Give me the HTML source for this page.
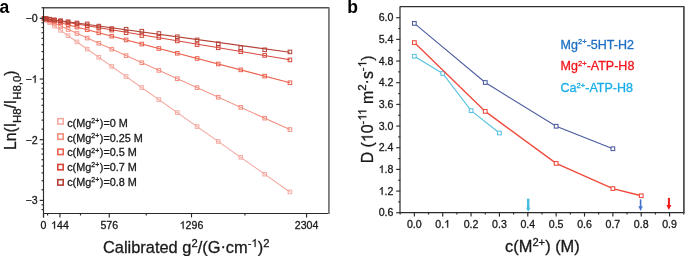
<!DOCTYPE html>
<html><head><meta charset="utf-8"><style>
html,body{margin:0;padding:0;background:#fff;}
body{width:685px;height:256px;overflow:hidden;font-family:"Liberation Sans",sans-serif;}
svg{display:block;will-change:transform;}
.h1{fill-opacity:0;stroke-opacity:0;}
text{stroke-width:0.3px;stroke-linejoin:round;}
</style></head><body>
<svg width="685" height="256" viewBox="0 0 685 256">
<rect width="685" height="256" fill="#fff"/>
<line x1="44.10" y1="18.77" x2="289.93" y2="191.96" stroke="#f5aba3" stroke-width="1.1"/>
<rect x="42.38" y="17.03" width="3.6" height="3.6" fill="none" stroke="#f5aba3" stroke-width="1"/>
<rect x="44.43" y="18.47" width="3.6" height="3.6" fill="none" stroke="#f5aba3" stroke-width="1"/>
<rect x="47.84" y="20.88" width="3.6" height="3.6" fill="none" stroke="#f5aba3" stroke-width="1"/>
<rect x="52.62" y="24.24" width="3.6" height="3.6" fill="none" stroke="#f5aba3" stroke-width="1"/>
<rect x="58.77" y="28.57" width="3.6" height="3.6" fill="none" stroke="#f5aba3" stroke-width="1"/>
<rect x="66.27" y="33.86" width="3.6" height="3.6" fill="none" stroke="#f5aba3" stroke-width="1"/>
<rect x="75.15" y="40.11" width="3.6" height="3.6" fill="none" stroke="#f5aba3" stroke-width="1"/>
<rect x="85.39" y="47.33" width="3.6" height="3.6" fill="none" stroke="#f5aba3" stroke-width="1"/>
<rect x="96.99" y="55.50" width="3.6" height="3.6" fill="none" stroke="#f5aba3" stroke-width="1"/>
<rect x="109.96" y="64.64" width="3.6" height="3.6" fill="none" stroke="#f5aba3" stroke-width="1"/>
<rect x="124.30" y="74.74" width="3.6" height="3.6" fill="none" stroke="#f5aba3" stroke-width="1"/>
<rect x="140.00" y="85.80" width="3.6" height="3.6" fill="none" stroke="#f5aba3" stroke-width="1"/>
<rect x="157.06" y="97.82" width="3.6" height="3.6" fill="none" stroke="#f5aba3" stroke-width="1"/>
<rect x="175.50" y="110.81" width="3.6" height="3.6" fill="none" stroke="#f5aba3" stroke-width="1"/>
<rect x="195.29" y="124.76" width="3.6" height="3.6" fill="none" stroke="#f5aba3" stroke-width="1"/>
<rect x="216.45" y="139.66" width="3.6" height="3.6" fill="none" stroke="#f5aba3" stroke-width="1"/>
<rect x="238.98" y="155.53" width="3.6" height="3.6" fill="none" stroke="#f5aba3" stroke-width="1"/>
<rect x="262.87" y="172.37" width="3.6" height="3.6" fill="none" stroke="#f5aba3" stroke-width="1"/>
<rect x="288.13" y="190.16" width="3.6" height="3.6" fill="none" stroke="#f5aba3" stroke-width="1"/>
<line x1="44.10" y1="18.62" x2="289.93" y2="129.56" stroke="#f38e7f" stroke-width="1.1"/>
<rect x="42.38" y="16.86" width="3.6" height="3.6" fill="none" stroke="#f38e7f" stroke-width="1"/>
<rect x="44.43" y="17.78" width="3.6" height="3.6" fill="none" stroke="#f38e7f" stroke-width="1"/>
<rect x="47.84" y="19.32" width="3.6" height="3.6" fill="none" stroke="#f38e7f" stroke-width="1"/>
<rect x="52.62" y="21.48" width="3.6" height="3.6" fill="none" stroke="#f38e7f" stroke-width="1"/>
<rect x="58.77" y="24.25" width="3.6" height="3.6" fill="none" stroke="#f38e7f" stroke-width="1"/>
<rect x="66.27" y="27.64" width="3.6" height="3.6" fill="none" stroke="#f38e7f" stroke-width="1"/>
<rect x="75.15" y="31.65" width="3.6" height="3.6" fill="none" stroke="#f38e7f" stroke-width="1"/>
<rect x="85.39" y="36.27" width="3.6" height="3.6" fill="none" stroke="#f38e7f" stroke-width="1"/>
<rect x="96.99" y="41.50" width="3.6" height="3.6" fill="none" stroke="#f38e7f" stroke-width="1"/>
<rect x="109.96" y="47.36" width="3.6" height="3.6" fill="none" stroke="#f38e7f" stroke-width="1"/>
<rect x="124.30" y="53.83" width="3.6" height="3.6" fill="none" stroke="#f38e7f" stroke-width="1"/>
<rect x="140.00" y="60.91" width="3.6" height="3.6" fill="none" stroke="#f38e7f" stroke-width="1"/>
<rect x="157.06" y="68.61" width="3.6" height="3.6" fill="none" stroke="#f38e7f" stroke-width="1"/>
<rect x="175.50" y="76.93" width="3.6" height="3.6" fill="none" stroke="#f38e7f" stroke-width="1"/>
<rect x="195.29" y="85.87" width="3.6" height="3.6" fill="none" stroke="#f38e7f" stroke-width="1"/>
<rect x="216.45" y="95.42" width="3.6" height="3.6" fill="none" stroke="#f38e7f" stroke-width="1"/>
<rect x="238.98" y="105.58" width="3.6" height="3.6" fill="none" stroke="#f38e7f" stroke-width="1"/>
<rect x="262.87" y="116.37" width="3.6" height="3.6" fill="none" stroke="#f38e7f" stroke-width="1"/>
<rect x="288.13" y="127.76" width="3.6" height="3.6" fill="none" stroke="#f38e7f" stroke-width="1"/>
<line x1="44.10" y1="18.51" x2="289.93" y2="82.72" stroke="#eb6350" stroke-width="1.1"/>
<rect x="42.38" y="16.73" width="3.6" height="3.6" fill="none" stroke="#eb6350" stroke-width="1"/>
<rect x="44.43" y="17.26" width="3.6" height="3.6" fill="none" stroke="#eb6350" stroke-width="1"/>
<rect x="47.84" y="18.15" width="3.6" height="3.6" fill="none" stroke="#eb6350" stroke-width="1"/>
<rect x="52.62" y="19.40" width="3.6" height="3.6" fill="none" stroke="#eb6350" stroke-width="1"/>
<rect x="58.77" y="21.01" width="3.6" height="3.6" fill="none" stroke="#eb6350" stroke-width="1"/>
<rect x="66.27" y="22.97" width="3.6" height="3.6" fill="none" stroke="#eb6350" stroke-width="1"/>
<rect x="75.15" y="25.29" width="3.6" height="3.6" fill="none" stroke="#eb6350" stroke-width="1"/>
<rect x="85.39" y="27.96" width="3.6" height="3.6" fill="none" stroke="#eb6350" stroke-width="1"/>
<rect x="96.99" y="30.99" width="3.6" height="3.6" fill="none" stroke="#eb6350" stroke-width="1"/>
<rect x="109.96" y="34.38" width="3.6" height="3.6" fill="none" stroke="#eb6350" stroke-width="1"/>
<rect x="124.30" y="38.12" width="3.6" height="3.6" fill="none" stroke="#eb6350" stroke-width="1"/>
<rect x="140.00" y="42.23" width="3.6" height="3.6" fill="none" stroke="#eb6350" stroke-width="1"/>
<rect x="157.06" y="46.68" width="3.6" height="3.6" fill="none" stroke="#eb6350" stroke-width="1"/>
<rect x="175.50" y="51.50" width="3.6" height="3.6" fill="none" stroke="#eb6350" stroke-width="1"/>
<rect x="195.29" y="56.67" width="3.6" height="3.6" fill="none" stroke="#eb6350" stroke-width="1"/>
<rect x="216.45" y="62.20" width="3.6" height="3.6" fill="none" stroke="#eb6350" stroke-width="1"/>
<rect x="238.98" y="68.08" width="3.6" height="3.6" fill="none" stroke="#eb6350" stroke-width="1"/>
<rect x="262.87" y="74.32" width="3.6" height="3.6" fill="none" stroke="#eb6350" stroke-width="1"/>
<rect x="288.13" y="80.92" width="3.6" height="3.6" fill="none" stroke="#eb6350" stroke-width="1"/>
<line x1="44.10" y1="18.45" x2="289.93" y2="59.75" stroke="#d6463a" stroke-width="1.1"/>
<rect x="42.38" y="16.66" width="3.6" height="3.6" fill="none" stroke="#d6463a" stroke-width="1"/>
<rect x="44.43" y="17.01" width="3.6" height="3.6" fill="none" stroke="#d6463a" stroke-width="1"/>
<rect x="47.84" y="17.58" width="3.6" height="3.6" fill="none" stroke="#d6463a" stroke-width="1"/>
<rect x="52.62" y="18.38" width="3.6" height="3.6" fill="none" stroke="#d6463a" stroke-width="1"/>
<rect x="58.77" y="19.42" width="3.6" height="3.6" fill="none" stroke="#d6463a" stroke-width="1"/>
<rect x="66.27" y="20.68" width="3.6" height="3.6" fill="none" stroke="#d6463a" stroke-width="1"/>
<rect x="75.15" y="22.17" width="3.6" height="3.6" fill="none" stroke="#d6463a" stroke-width="1"/>
<rect x="85.39" y="23.89" width="3.6" height="3.6" fill="none" stroke="#d6463a" stroke-width="1"/>
<rect x="96.99" y="25.84" width="3.6" height="3.6" fill="none" stroke="#d6463a" stroke-width="1"/>
<rect x="109.96" y="28.30" width="3.6" height="3.6" fill="none" stroke="#d6463a" stroke-width="1"/>
<rect x="124.30" y="30.95" width="3.6" height="3.6" fill="none" stroke="#d6463a" stroke-width="1"/>
<rect x="140.00" y="33.70" width="3.6" height="3.6" fill="none" stroke="#d6463a" stroke-width="1"/>
<rect x="157.06" y="35.70" width="3.6" height="3.6" fill="none" stroke="#d6463a" stroke-width="1"/>
<rect x="175.50" y="39.10" width="3.6" height="3.6" fill="none" stroke="#d6463a" stroke-width="1"/>
<rect x="195.29" y="42.80" width="3.6" height="3.6" fill="none" stroke="#d6463a" stroke-width="1"/>
<rect x="216.45" y="46.00" width="3.6" height="3.6" fill="none" stroke="#d6463a" stroke-width="1"/>
<rect x="238.98" y="49.85" width="3.6" height="3.6" fill="none" stroke="#d6463a" stroke-width="1"/>
<rect x="262.87" y="53.60" width="3.6" height="3.6" fill="none" stroke="#d6463a" stroke-width="1"/>
<rect x="288.13" y="58.10" width="3.6" height="3.6" fill="none" stroke="#d6463a" stroke-width="1"/>
<line x1="44.10" y1="18.43" x2="289.93" y2="52.31" stroke="#b54237" stroke-width="1.1"/>
<rect x="42.38" y="16.64" width="3.6" height="3.6" fill="none" stroke="#b54237" stroke-width="1"/>
<rect x="44.43" y="16.93" width="3.6" height="3.6" fill="none" stroke="#b54237" stroke-width="1"/>
<rect x="47.84" y="17.40" width="3.6" height="3.6" fill="none" stroke="#b54237" stroke-width="1"/>
<rect x="52.62" y="18.06" width="3.6" height="3.6" fill="none" stroke="#b54237" stroke-width="1"/>
<rect x="58.77" y="18.90" width="3.6" height="3.6" fill="none" stroke="#b54237" stroke-width="1"/>
<rect x="66.27" y="19.94" width="3.6" height="3.6" fill="none" stroke="#b54237" stroke-width="1"/>
<rect x="75.15" y="21.16" width="3.6" height="3.6" fill="none" stroke="#b54237" stroke-width="1"/>
<rect x="85.39" y="22.10" width="3.6" height="3.6" fill="none" stroke="#b54237" stroke-width="1"/>
<rect x="96.99" y="24.30" width="3.6" height="3.6" fill="none" stroke="#b54237" stroke-width="1"/>
<rect x="109.96" y="26.80" width="3.6" height="3.6" fill="none" stroke="#b54237" stroke-width="1"/>
<rect x="124.30" y="27.40" width="3.6" height="3.6" fill="none" stroke="#b54237" stroke-width="1"/>
<rect x="140.00" y="29.40" width="3.6" height="3.6" fill="none" stroke="#b54237" stroke-width="1"/>
<rect x="157.06" y="31.70" width="3.6" height="3.6" fill="none" stroke="#b54237" stroke-width="1"/>
<rect x="175.50" y="35.00" width="3.6" height="3.6" fill="none" stroke="#b54237" stroke-width="1"/>
<rect x="195.29" y="38.10" width="3.6" height="3.6" fill="none" stroke="#b54237" stroke-width="1"/>
<rect x="216.45" y="41.90" width="3.6" height="3.6" fill="none" stroke="#b54237" stroke-width="1"/>
<rect x="238.98" y="45.95" width="3.6" height="3.6" fill="none" stroke="#b54237" stroke-width="1"/>
<rect x="262.87" y="48.00" width="3.6" height="3.6" fill="none" stroke="#b54237" stroke-width="1"/>
<rect x="288.13" y="50.10" width="3.6" height="3.6" fill="none" stroke="#b54237" stroke-width="1"/>
<g stroke="#2a2a2a" stroke-width="1.15" fill="none">
<line x1="43.50" y1="7.00" x2="43.50" y2="217.50"/>
<line x1="43.00" y1="213.50" x2="329.30" y2="213.50"/>
<line x1="43.50" y1="7.65" x2="329.40" y2="7.65" stroke="#505050" stroke-width="1.45"/>
<line x1="328.90" y1="7.65" x2="328.90" y2="214.00" stroke="#7a7a7a" stroke-width="1.8"/>
<line x1="39.70" y1="18.35" x2="43.50" y2="18.35"/>
<line x1="39.70" y1="79.03" x2="43.50" y2="79.03"/>
<line x1="39.70" y1="139.71" x2="43.50" y2="139.71"/>
<line x1="39.70" y1="200.39" x2="43.50" y2="200.39"/>
<line x1="41.50" y1="209.58" x2="43.50" y2="209.58"/>
<line x1="41.50" y1="204.81" x2="43.50" y2="204.81"/>
<line x1="41.50" y1="189.79" x2="43.50" y2="189.79"/>
<line x1="41.50" y1="180.77" x2="43.50" y2="180.77"/>
<line x1="41.50" y1="172.91" x2="43.50" y2="172.91"/>
<line x1="41.50" y1="165.96" x2="43.50" y2="165.96"/>
<line x1="41.50" y1="159.72" x2="43.50" y2="159.72"/>
<line x1="41.50" y1="154.07" x2="43.50" y2="154.07"/>
<line x1="41.50" y1="148.90" x2="43.50" y2="148.90"/>
<line x1="41.50" y1="144.13" x2="43.50" y2="144.13"/>
<line x1="41.50" y1="129.11" x2="43.50" y2="129.11"/>
<line x1="41.50" y1="120.09" x2="43.50" y2="120.09"/>
<line x1="41.50" y1="112.23" x2="43.50" y2="112.23"/>
<line x1="41.50" y1="105.28" x2="43.50" y2="105.28"/>
<line x1="41.50" y1="99.04" x2="43.50" y2="99.04"/>
<line x1="41.50" y1="93.39" x2="43.50" y2="93.39"/>
<line x1="41.50" y1="88.22" x2="43.50" y2="88.22"/>
<line x1="41.50" y1="83.45" x2="43.50" y2="83.45"/>
<line x1="41.50" y1="68.43" x2="43.50" y2="68.43"/>
<line x1="41.50" y1="59.41" x2="43.50" y2="59.41"/>
<line x1="41.50" y1="51.55" x2="43.50" y2="51.55"/>
<line x1="41.50" y1="44.60" x2="43.50" y2="44.60"/>
<line x1="41.50" y1="38.36" x2="43.50" y2="38.36"/>
<line x1="41.50" y1="32.71" x2="43.50" y2="32.71"/>
<line x1="41.50" y1="27.54" x2="43.50" y2="27.54"/>
<line x1="41.50" y1="22.77" x2="43.50" y2="22.77"/>
<line x1="41.50" y1="7.75" x2="43.50" y2="7.75"/>
<line x1="43.50" y1="213.50" x2="43.50" y2="217.50"/>
<line x1="59.94" y1="213.50" x2="59.94" y2="217.50"/>
<line x1="109.27" y1="213.50" x2="109.27" y2="217.50"/>
<line x1="191.49" y1="213.50" x2="191.49" y2="217.50"/>
<line x1="306.59" y1="213.50" x2="306.59" y2="217.50"/>
<line x1="47.61" y1="213.50" x2="47.61" y2="215.50"/>
<line x1="80.50" y1="213.50" x2="80.50" y2="215.50"/>
<line x1="146.27" y1="213.50" x2="146.27" y2="215.50"/>
<line x1="244.93" y1="213.50" x2="244.93" y2="215.50"/>
</g>
<g font-family="Liberation Sans, sans-serif" font-size="10.60" fill="#1a1a1a" stroke="#1a1a1a">
<text x="37.6" y="22.15" text-anchor="end">−0</text>
<text x="37.6" y="82.83" text-anchor="end">−<tspan class="h1">1</tspan></text>
<text x="37.6" y="143.51" text-anchor="end">−2</text>
<text x="37.6" y="204.19" text-anchor="end">−3</text>
<text x="43.50" y="228.8" text-anchor="middle">0</text>
<text x="59.94" y="228.8" text-anchor="middle"><tspan class="h1">1</tspan>44</text>
<text x="109.27" y="228.8" text-anchor="middle">576</text>
<text x="191.49" y="228.8" text-anchor="middle"><tspan class="h1">1</tspan>296</text>
<text x="306.59" y="228.8" text-anchor="middle">2304</text>
</g>
<rect x="57.80" y="118.65" width="5.4" height="5.4" fill="none" stroke="#f5aba3" stroke-width="1.6"/>
<text x="67.2" y="126.80" font-family="Liberation Sans, sans-serif" font-size="10.85" fill="#1a1a1a" stroke="#1a1a1a">c(Mg<tspan font-size="6.9" dy="-3.8">2+</tspan><tspan dy="3.8" dx="0.6">)=0 M</tspan></text>
<rect x="57.80" y="133.91" width="5.4" height="5.4" fill="none" stroke="#f38e7f" stroke-width="1.6"/>
<text x="67.2" y="141.62" font-family="Liberation Sans, sans-serif" font-size="10.85" fill="#1a1a1a" stroke="#1a1a1a">c(Mg<tspan font-size="6.9" dy="-3.8">2+</tspan><tspan dy="3.8" dx="0.6">)=0.25 M</tspan></text>
<rect x="57.80" y="149.17" width="5.4" height="5.4" fill="none" stroke="#eb6350" stroke-width="1.6"/>
<text x="67.2" y="156.44" font-family="Liberation Sans, sans-serif" font-size="10.85" fill="#1a1a1a" stroke="#1a1a1a">c(Mg<tspan font-size="6.9" dy="-3.8">2+</tspan><tspan dy="3.8" dx="0.6">)=0.5 M</tspan></text>
<rect x="57.80" y="164.43" width="5.4" height="5.4" fill="none" stroke="#d6463a" stroke-width="1.6"/>
<text x="67.2" y="171.26" font-family="Liberation Sans, sans-serif" font-size="10.85" fill="#1a1a1a" stroke="#1a1a1a">c(Mg<tspan font-size="6.9" dy="-3.8">2+</tspan><tspan dy="3.8" dx="0.6">)=0.7 M</tspan></text>
<rect x="57.80" y="179.69" width="5.4" height="5.4" fill="none" stroke="#b54237" stroke-width="1.6"/>
<text x="67.2" y="186.08" font-family="Liberation Sans, sans-serif" font-size="10.85" fill="#1a1a1a" stroke="#1a1a1a">c(Mg<tspan font-size="6.9" dy="-3.8">2+</tspan><tspan dy="3.8" dx="0.6">)=0.8 M</tspan></text>
<text x="186.2" y="252.9" text-anchor="middle" font-family="Liberation Sans, sans-serif" font-size="16.40" fill="#1a1a1a" stroke="#1a1a1a">Calibrated g<tspan font-size="11.2" dy="-6">2</tspan><tspan dy="6">/(G</tspan><tspan dy="-1.1">·</tspan><tspan dy="1.1">cm</tspan><tspan font-size="11.2" dy="-6">-<tspan class="h1">1</tspan></tspan><tspan dy="6">)</tspan><tspan font-size="11.2" dy="-6">2</tspan></text>
<text transform="translate(15.8,149.9) rotate(-90)" font-family="Liberation Sans, sans-serif" font-size="15.6" fill="#1a1a1a" stroke="#1a1a1a">Ln(I<tspan font-size="11.4" dy="5.1">H8</tspan><tspan dy="-5.1">/I</tspan><tspan font-size="11.4" dy="5.1">H8,0</tspan><tspan dy="-5.1">)</tspan></text>
<text x="-0.5" y="13.2" font-family="Liberation Sans, sans-serif" font-weight="bold" font-size="17.5" fill="#000">a</text>
<polyline points="414.35,56.25 442.71,73.50 471.07,110.60 499.43,133.00" fill="none" stroke="#58c3e2" stroke-width="1.10"/>
<rect x="412.50" y="54.40" width="3.7" height="3.7" fill="#fff" stroke="#58c3e2" stroke-width="1.05"/>
<rect x="440.86" y="71.65" width="3.7" height="3.7" fill="#fff" stroke="#58c3e2" stroke-width="1.05"/>
<rect x="469.22" y="108.75" width="3.7" height="3.7" fill="#fff" stroke="#58c3e2" stroke-width="1.05"/>
<rect x="497.58" y="131.15" width="3.7" height="3.7" fill="#fff" stroke="#58c3e2" stroke-width="1.05"/>
<polyline points="414.35,23.40 485.25,82.50 556.15,126.25 612.87,148.75" fill="none" stroke="#4a5a9c" stroke-width="1.05"/>
<rect x="412.50" y="21.55" width="3.7" height="3.7" fill="#fff" stroke="#4a5a9c" stroke-width="1.05"/>
<rect x="483.40" y="80.65" width="3.7" height="3.7" fill="#fff" stroke="#4a5a9c" stroke-width="1.05"/>
<rect x="554.30" y="124.40" width="3.7" height="3.7" fill="#fff" stroke="#4a5a9c" stroke-width="1.05"/>
<rect x="611.02" y="146.90" width="3.7" height="3.7" fill="#fff" stroke="#4a5a9c" stroke-width="1.05"/>
<polyline points="414.35,42.60 485.25,111.40 556.15,163.40 612.87,188.60 641.23,195.75" fill="none" stroke="#ef4a3c" stroke-width="1.35"/>
<rect x="412.50" y="40.75" width="3.7" height="3.7" fill="#fff" stroke="#ef4a3c" stroke-width="1.05"/>
<rect x="483.40" y="109.55" width="3.7" height="3.7" fill="#fff" stroke="#ef4a3c" stroke-width="1.05"/>
<rect x="554.30" y="161.55" width="3.7" height="3.7" fill="#fff" stroke="#ef4a3c" stroke-width="1.05"/>
<rect x="611.02" y="186.75" width="3.7" height="3.7" fill="#fff" stroke="#ef4a3c" stroke-width="1.05"/>
<rect x="639.38" y="193.90" width="3.7" height="3.7" fill="#fff" stroke="#ef4a3c" stroke-width="1.05"/>
<line x1="528.20" y1="198.70" x2="528.20" y2="208.30" stroke="#47bde0" stroke-width="2.50"/>
<polygon points="526.00,207.80 530.40,207.80 528.20,211.80" fill="#47bde0"/>
<line x1="640.60" y1="199.40" x2="640.60" y2="206.70" stroke="#4272cc" stroke-width="1.60"/>
<polygon points="638.40,206.20 642.80,206.20 640.60,211.00" fill="#4272cc"/>
<line x1="668.90" y1="197.90" x2="668.90" y2="205.50" stroke="#f01818" stroke-width="2.00"/>
<polygon points="666.40,205.00 671.40,205.00 668.90,210.00" fill="#f01818"/>
<g stroke="#2a2a2a" stroke-width="1.15" fill="none">
<line x1="400.00" y1="6.85" x2="400.00" y2="213.05" stroke="#6a6a6a" stroke-width="1.7"/>
<line x1="399.70" y1="212.55" x2="684.30" y2="212.55"/>
<line x1="399.70" y1="6.60" x2="684.30" y2="6.60" stroke="#303030" stroke-width="1.2"/>
<line x1="683.90" y1="6.60" x2="683.90" y2="213.05" stroke="#4a4a4a" stroke-width="1.7"/>
<line x1="396.20" y1="212.75" x2="400.20" y2="212.75"/>
<line x1="398.20" y1="201.91" x2="400.20" y2="201.91"/>
<line x1="396.20" y1="191.08" x2="400.20" y2="191.08"/>
<line x1="398.20" y1="180.24" x2="400.20" y2="180.24"/>
<line x1="396.20" y1="169.40" x2="400.20" y2="169.40"/>
<line x1="398.20" y1="158.57" x2="400.20" y2="158.57"/>
<line x1="396.20" y1="147.73" x2="400.20" y2="147.73"/>
<line x1="398.20" y1="136.90" x2="400.20" y2="136.90"/>
<line x1="396.20" y1="126.06" x2="400.20" y2="126.06"/>
<line x1="398.20" y1="115.22" x2="400.20" y2="115.22"/>
<line x1="396.20" y1="104.39" x2="400.20" y2="104.39"/>
<line x1="398.20" y1="93.55" x2="400.20" y2="93.55"/>
<line x1="396.20" y1="82.72" x2="400.20" y2="82.72"/>
<line x1="398.20" y1="71.88" x2="400.20" y2="71.88"/>
<line x1="396.20" y1="61.04" x2="400.20" y2="61.04"/>
<line x1="398.20" y1="50.21" x2="400.20" y2="50.21"/>
<line x1="396.20" y1="39.37" x2="400.20" y2="39.37"/>
<line x1="398.20" y1="28.54" x2="400.20" y2="28.54"/>
<line x1="396.20" y1="17.70" x2="400.20" y2="17.70"/>
<line x1="400.17" y1="212.55" x2="400.17" y2="214.55"/>
<line x1="414.35" y1="212.55" x2="414.35" y2="216.55"/>
<line x1="428.53" y1="212.55" x2="428.53" y2="214.55"/>
<line x1="442.71" y1="212.55" x2="442.71" y2="216.55"/>
<line x1="456.89" y1="212.55" x2="456.89" y2="214.55"/>
<line x1="471.07" y1="212.55" x2="471.07" y2="216.55"/>
<line x1="485.25" y1="212.55" x2="485.25" y2="214.55"/>
<line x1="499.43" y1="212.55" x2="499.43" y2="216.55"/>
<line x1="513.61" y1="212.55" x2="513.61" y2="214.55"/>
<line x1="527.79" y1="212.55" x2="527.79" y2="216.55"/>
<line x1="541.97" y1="212.55" x2="541.97" y2="214.55"/>
<line x1="556.15" y1="212.55" x2="556.15" y2="216.55"/>
<line x1="570.33" y1="212.55" x2="570.33" y2="214.55"/>
<line x1="584.51" y1="212.55" x2="584.51" y2="216.55"/>
<line x1="598.69" y1="212.55" x2="598.69" y2="214.55"/>
<line x1="612.87" y1="212.55" x2="612.87" y2="216.55"/>
<line x1="627.05" y1="212.55" x2="627.05" y2="214.55"/>
<line x1="641.23" y1="212.55" x2="641.23" y2="216.55"/>
<line x1="655.41" y1="212.55" x2="655.41" y2="214.55"/>
<line x1="669.59" y1="212.55" x2="669.59" y2="216.55"/>
<line x1="683.77" y1="212.55" x2="683.77" y2="214.55"/>
</g>
<g font-family="Liberation Sans, sans-serif" font-size="10.60" fill="#1a1a1a" stroke="#1a1a1a">
<text x="393.4" y="216.30" text-anchor="end">0.6</text>
<text x="393.4" y="194.63" text-anchor="end"><tspan class="h1">1</tspan>.2</text>
<text x="393.4" y="172.95" text-anchor="end"><tspan class="h1">1</tspan>.8</text>
<text x="393.4" y="151.28" text-anchor="end">2.4</text>
<text x="393.4" y="129.61" text-anchor="end">3.0</text>
<text x="393.4" y="107.94" text-anchor="end">3.6</text>
<text x="393.4" y="86.27" text-anchor="end">4.2</text>
<text x="393.4" y="64.59" text-anchor="end">4.8</text>
<text x="393.4" y="42.92" text-anchor="end">5.4</text>
<text x="393.4" y="21.25" text-anchor="end">6.0</text>
<text x="414.35" y="227.6" text-anchor="middle">0.0</text>
<text x="442.71" y="227.6" text-anchor="middle">0.<tspan class="h1">1</tspan></text>
<text x="471.07" y="227.6" text-anchor="middle">0.2</text>
<text x="499.43" y="227.6" text-anchor="middle">0.3</text>
<text x="527.79" y="227.6" text-anchor="middle">0.4</text>
<text x="556.15" y="227.6" text-anchor="middle">0.5</text>
<text x="584.51" y="227.6" text-anchor="middle">0.6</text>
<text x="612.87" y="227.6" text-anchor="middle">0.7</text>
<text x="641.23" y="227.6" text-anchor="middle">0.8</text>
<text x="669.59" y="227.6" text-anchor="middle">0.9</text>
</g>
<text x="560.60" y="48.60" font-family="Liberation Sans, sans-serif" font-size="12.50" fill="#1f6fc2" stroke="#1f6fc2">Mg<tspan font-size="7.60" dy="-4.30">2+</tspan><tspan dy="4.30">-5HT-H2</tspan></text>
<text x="560.60" y="69.80" font-family="Liberation Sans, sans-serif" font-size="12.50" fill="#f2141c" stroke="#f2141c">Mg<tspan font-size="7.60" dy="-4.30">2+</tspan><tspan dy="4.30">-ATP-H8</tspan></text>
<text x="560.60" y="91.90" font-family="Liberation Sans, sans-serif" font-size="12.50" fill="#1aaee8" stroke="#1aaee8">Ca<tspan font-size="7.60" dy="-4.30">2+</tspan><tspan dy="4.30">-ATP-H8</tspan></text>
<text x="542.4" y="252.2" text-anchor="middle" font-family="Liberation Sans, sans-serif" font-size="16.40" fill="#1a1a1a" stroke="#1a1a1a">c(M<tspan font-size="11.2" dy="-6">2+</tspan><tspan dy="6">) (M)</tspan></text>
<text transform="translate(372.8,163.3) rotate(-90)" font-family="Liberation Sans, sans-serif" font-size="15.9" fill="#1a1a1a" stroke="#1a1a1a">D (<tspan class="h1">1</tspan>0<tspan font-size="11.6" dy="-6.5">-<tspan class="h1">1</tspan><tspan class="h1">1</tspan></tspan><tspan dy="6.5"> m</tspan><tspan font-size="11.6" dy="-6.5">2</tspan><tspan dy="5.8">·</tspan><tspan dy="0.7">s</tspan><tspan font-size="11.6" dy="-6.5">-<tspan class="h1">1</tspan></tspan><tspan dy="6.5">)</tspan></text>
<text x="347.2" y="13.2" font-family="Liberation Sans, sans-serif" font-weight="bold" font-size="17.5" fill="#000">b</text>
<path transform="matrix(1.00000,0.00000,0.00000,1.00000,0.000,0.000)" d="M34.71,82.83L35.64,82.83L35.64,75.24L35.04,75.24C34.85,75.64 34.49,76.05 34.13,76.36C33.76,76.67 33.25,76.96 32.84,77.14L32.84,78.03C33.09,77.93 33.40,77.78 33.76,77.58C34.13,77.37 34.46,77.14 34.71,76.89Z" fill="rgb(26, 26, 26)" stroke="rgb(26, 26, 26)" stroke-width="0.3" stroke-linejoin="round"/>
<path transform="matrix(1.00000,0.00000,0.00000,1.00000,0.000,0.000)" d="M54.11,228.80L55.04,228.80L55.04,221.21L54.43,221.21C54.25,221.61 53.88,222.02 53.52,222.33C53.16,222.64 52.64,222.93 52.24,223.11L52.24,224.00C52.49,223.90 52.80,223.75 53.16,223.55C53.52,223.34 53.86,223.11 54.11,222.86Z" fill="rgb(26, 26, 26)" stroke="rgb(26, 26, 26)" stroke-width="0.3" stroke-linejoin="round"/>
<path transform="matrix(1.00000,0.00000,0.00000,1.00000,0.000,0.000)" d="M182.71,228.80L183.64,228.80L183.64,221.21L183.04,221.21C182.85,221.61 182.49,222.02 182.13,222.33C181.76,222.64 181.25,222.93 180.84,223.11L180.84,224.00C181.09,223.90 181.40,223.75 181.76,223.55C182.13,223.34 182.46,223.11 182.71,222.86Z" fill="rgb(26, 26, 26)" stroke="rgb(26, 26, 26)" stroke-width="0.3" stroke-linejoin="round"/>
<path transform="matrix(1.00000,0.00000,0.00000,1.00000,0.000,0.000)" d="M254.65,246.90L255.63,246.90L255.63,238.88L254.99,238.88C254.79,239.30 254.41,239.74 254.03,240.06C253.65,240.39 253.10,240.69 252.67,240.88L252.67,241.82C252.93,241.73 253.26,241.57 253.65,241.35C254.03,241.13 254.38,240.88 254.65,240.63Z" fill="#1a1a1a" stroke="#1a1a1a" stroke-width="0.3" stroke-linejoin="round"/>
<path transform="matrix(1.00000,0.00000,0.00000,1.00000,0.000,0.000)" d="M381.67,194.63L382.60,194.63L382.60,187.04L381.99,187.04C381.81,187.44 381.44,187.85 381.08,188.16C380.72,188.47 380.20,188.76 379.80,188.94L379.80,189.83C380.05,189.73 380.36,189.58 380.72,189.38C381.08,189.17 381.42,188.94 381.67,188.69Z" fill="rgb(26, 26, 26)" stroke="rgb(26, 26, 26)" stroke-width="0.3" stroke-linejoin="round"/>
<path transform="matrix(1.00000,0.00000,0.00000,1.00000,0.000,0.000)" d="M381.67,172.95L382.60,172.95L382.60,165.36L381.99,165.36C381.81,165.76 381.44,166.17 381.08,166.48C380.72,166.79 380.20,167.08 379.80,167.26L379.80,168.15C380.05,168.05 380.36,167.90 380.72,167.70C381.08,167.49 381.42,167.26 381.67,167.01Z" fill="rgb(26, 26, 26)" stroke="rgb(26, 26, 26)" stroke-width="0.3" stroke-linejoin="round"/>
<path transform="matrix(1.00000,0.00000,0.00000,1.00000,0.000,0.000)" d="M447.20,227.60L448.13,227.60L448.13,220.01L447.52,220.01C447.34,220.41 446.97,220.82 446.61,221.13C446.25,221.44 445.73,221.73 445.33,221.91L445.33,222.80C445.58,222.70 445.89,222.55 446.25,222.35C446.61,222.14 446.95,221.91 447.20,221.66Z" fill="rgb(26, 26, 26)" stroke="rgb(26, 26, 26)" stroke-width="0.3" stroke-linejoin="round"/>
<path transform="matrix(0.00000,-1.00000,1.00000,0.00000,372.800,163.300)" d="M25.71,0.00L27.11,0.00L27.11,-11.38L26.20,-11.38C25.92,-10.79 25.38,-10.17 24.84,-9.70C24.29,-9.24 23.52,-8.81 22.91,-8.54L22.91,-7.20C23.28,-7.34 23.75,-7.57 24.29,-7.88C24.84,-8.19 25.34,-8.54 25.71,-8.90Z" fill="#1a1a1a" stroke="#1a1a1a" stroke-width="0.3" stroke-linejoin="round"/>
<path transform="matrix(0.00000,-1.00000,1.00000,0.00000,372.800,163.300)" d="M46.05,-6.50L47.07,-6.50L47.07,-14.80L46.41,-14.80C46.21,-14.37 45.81,-13.92 45.41,-13.58C45.02,-13.24 44.45,-12.93 44.01,-12.73L44.01,-11.76C44.28,-11.86 44.62,-12.02 45.02,-12.25C45.41,-12.48 45.78,-12.73 46.05,-13.00Z" fill="#1a1a1a" stroke="#1a1a1a" stroke-width="0.3" stroke-linejoin="round"/>
<path transform="matrix(0.00000,-1.00000,1.00000,0.00000,372.800,163.300)" d="M51.65,-6.50L52.67,-6.50L52.67,-14.80L52.00,-14.80C51.80,-14.37 51.40,-13.92 51.01,-13.58C50.61,-13.24 50.04,-12.93 49.60,-12.73L49.60,-11.76C49.87,-11.86 50.21,-12.02 50.61,-12.25C51.01,-12.48 51.37,-12.73 51.65,-13.00Z" fill="#1a1a1a" stroke="#1a1a1a" stroke-width="0.3" stroke-linejoin="round"/>
<path transform="matrix(0.00000,-1.00000,1.00000,0.00000,372.800,163.300)" d="M99.33,-6.50L100.35,-6.50L100.35,-14.80L99.69,-14.80C99.49,-14.37 99.09,-13.92 98.69,-13.58C98.30,-13.24 97.73,-12.93 97.29,-12.73L97.29,-11.76C97.56,-11.86 97.90,-12.02 98.30,-12.25C98.69,-12.48 99.06,-12.73 99.33,-13.00Z" fill="#1a1a1a" stroke="#1a1a1a" stroke-width="0.3" stroke-linejoin="round"/>
</svg>
</body></html>
